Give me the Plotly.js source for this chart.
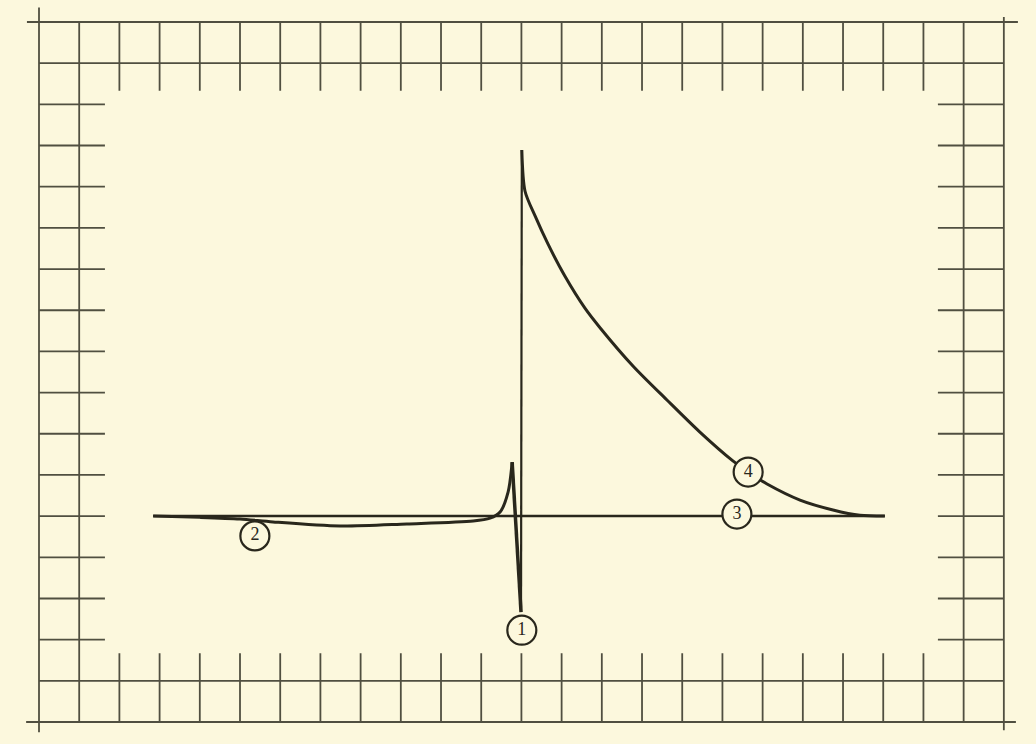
<!DOCTYPE html>
<html>
<head>
<meta charset="utf-8">
<script src="https://cdn.plot.ly/plotly-3.0.1.min.js"></script>
<style>
html,body{margin:0;padding:0;background:#fcf8dd;}
#chart{width:1036px;height:744px;}
</style>
</head>
<body>
<div id="chart"></div>
<script>
// ---- data (grid units: 1 unit = one cell of the graph-paper frame) ----
// baseline (3)
const baseX = [2.84, 21.04];
const baseY = [5.0, 5.0];

// slow negative deflection (2) leading into the small pre-spike
const dipX = [2.84, 4.0, 5.0, 5.82, 7.49, 9.15, 10.80, 11.22, 11.47, 11.67, 11.77];
const dipY = [5.0, 4.97, 4.93, 4.86, 4.76, 4.81, 4.88, 4.95, 5.10, 5.59, 6.31];

// fast transient (1): pre-spike peak -> deep trough
const downX = [11.77, 11.99];
const downY = [6.31, 2.67];
// rise from trough to main peak
const riseX = [11.99, 12.01];
const riseY = [2.67, 13.89];

// decay back to baseline (4)
const decayX = [12.01, 12.09, 12.34, 12.66, 13.08, 13.58, 13.96, 14.78, 15.62, 16.44, 17.26, 17.64, 18.11, 18.93, 19.75, 20.42, 21.04];
const decayY = [13.89, 12.89, 12.29, 11.61, 10.83, 10.05, 9.57, 8.64, 7.82, 7.04, 6.34, 6.07, 5.78, 5.39, 5.15, 5.02, 5.0];

// circled labels
const labelText = ["1", "2", "3", "4"];
const labelX = [12.01, 5.37, 17.36, 17.64];
const labelY = [2.23, 4.52, 5.05, 6.07];

// graph-paper frame
const frameCols = [2,3,4,5,6,7,8,9,10,11,12,13,14,15,16,17,18,19,20,21,22];
const frameRows = [2,3,4,5,6,7,8,9,10,11,12,13,14,15];

// ---- build frame segments ----
const gx = [], gy = [];
function seg(x0, y0, x1, y1){ gx.push(x0, x1, null); gy.push(y0, y1, null); }
// long border lines
seg(-0.30, 17, 24.35, 17);
seg(0, 16, 24, 16);
seg(0, 1, 24, 1);
seg(-0.32, 0, 24.30, 0);
seg(0, -0.25, 0, 17.35);
seg(1, 0, 1, 17);
seg(23, 0, 23, 17);
seg(24, -0.20, 24, 17.12);
// ticks
frameCols.forEach(c => { seg(c, 15.33, c, 17); seg(c, 0, c, 1.67); });
frameRows.forEach(r => { seg(0, r, 1.64, r); seg(22.36, r, 24, r); });

const ink = "#29271c";
const gridInk = "#504f40";
const bg = "#fcf8dd";

const traces = [
  {x: gx, y: gy, mode: "lines", line: {color: gridInk, width: 1.8}, hoverinfo: "skip", connectgaps: false},
  {x: baseX, y: baseY, mode: "lines", line: {color: ink, width: 2.5}, hoverinfo: "skip"},
  {x: dipX, y: dipY, mode: "lines", line: {color: ink, width: 3, shape: "spline", smoothing: 0.8}, hoverinfo: "skip"},
  {x: downX, y: downY, mode: "lines", line: {color: ink, width: 3.5}, hoverinfo: "skip"},
  {x: riseX, y: riseY, mode: "lines", line: {color: ink, width: 2.2}, hoverinfo: "skip"},
  {x: decayX, y: decayY, mode: "lines", line: {color: ink, width: 3, shape: "spline", smoothing: 0.8}, hoverinfo: "skip"},
  {x: labelX, y: labelY, mode: "markers+text", text: labelText, textposition: "middle center",
   textfont: {family: "Liberation Serif, DejaVu Serif, serif", size: 18, color: ink},
   marker: {size: 29, color: bg, line: {color: ink, width: 2.2}}, hoverinfo: "skip"}
];

const layout = {
  width: 1036, height: 744,
  margin: {l: 0, r: 0, t: 0, b: 0, pad: 0},
  paper_bgcolor: bg, plot_bgcolor: bg,
  showlegend: false,
  xaxis: {range: [-0.970, 24.80], visible: false, fixedrange: true},
  yaxis: {range: [-0.534, 17.534], visible: false, fixedrange: true}
};

Plotly.newPlot("chart", traces, layout, {displayModeBar: false, staticPlot: true});
</script>
</body>
</html>
